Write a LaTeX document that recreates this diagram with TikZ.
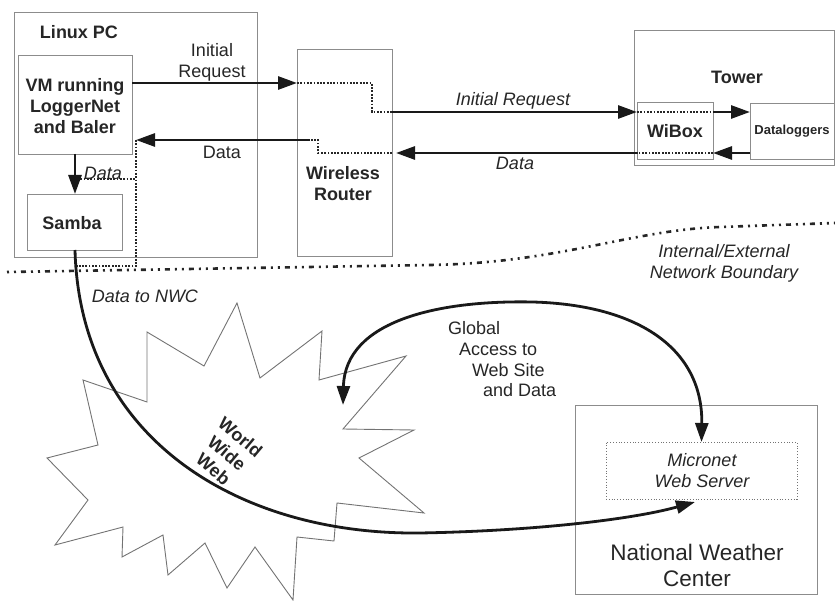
\documentclass[tikz,border=0pt]{standalone}
\usepackage{fontspec}
\setmainfont{Liberation Sans}
\usetikzlibrary{arrows.meta,calc}
\begin{document}
\begin{tikzpicture}[x=1pt,y=-1pt,
  every node/.style={font=\fontsize{18}{21}\selectfont, text=black!85, inner sep=0pt, outer sep=0pt},
  box/.style={draw=black!45, line width=0.9pt, rectangle},
  lbl/.style={font=\fontsize{18}{21}\selectfont\bfseries, align=center},
  ilbl/.style={font=\fontsize{18}{21}\selectfont\itshape, align=center},
  nlbl/.style={font=\fontsize{18}{21}\selectfont, align=center},
  arr/.style={line width=2.8pt, draw=black!90, -{Triangle[length=19pt,width=13pt]}},
  darr/.style={line width=2.8pt, draw=black!90, {Triangle[length=19pt,width=13pt]}-{Triangle[length=19pt,width=13pt]}},
  dots/.style={line width=2.6pt, draw=black!85, dash pattern=on 1.8pt off 1.5pt},
  boundary/.style={line width=2.6pt, draw=black!85, dash pattern=on 2pt off 5pt on 2pt off 5pt on 5pt off 5pt},
  star/.style={draw=black!55, line width=0.9pt}
]
\useasboundingbox (0,0) rectangle (835,601);

% boxes
\node[box, minimum width=243pt, minimum height=245pt] (linux) at (135.5,134.5) {};
\node[box, minimum width=114pt, minimum height=99pt] (vm) at (75,104.5) {};
\node[box, minimum width=95pt, minimum height=56pt] (samba) at (74.5,222) {};
\node[box, minimum width=95pt, minimum height=207pt] (router) at (344.5,152.5) {};
\node[box, minimum width=200pt, minimum height=135pt] (tower) at (734,97.5) {};
\node[box, minimum width=76pt, minimum height=57pt] (wibox) at (675,130.5) {};
\node[box, minimum width=85pt, minimum height=56pt] (dl) at (792.5,131) {};
\node[box, minimum width=242pt, minimum height=189pt] (nwc) at (696,499.5) {};
\node[draw=black!55, line width=0.8pt, dotted, minimum width=191pt, minimum height=57pt] (micronet) at (701.5,470.5) {};

% labels
\node[lbl] (tLinux) at (79,32) {Linux PC};
\node[lbl] (tVM) at (75,106) {VM running\\LoggerNet\\and Baler};
\node[lbl] (tSamba) at (72,223) {Samba};
\node[lbl] (tRouter) at (343,184) {Wireless\\Router};
\node[lbl] (tTower) at (737,77) {Tower};
\node[lbl] (tWiBox) at (675,131) {WiBox};
\node[lbl, font=\fontsize{13}{15}\selectfont\bfseries] (tDL) at (792,131) {Dataloggers};
\node[nlbl] (tIR1) at (212,62) {Initial\\Request};
\node[nlbl] (tD1) at (222,152) {Data};
\node[ilbl] (tD3) at (103,173) {Data};
\node[ilbl] (tIR2) at (513,101) {Initial Request};
\node[ilbl] (tD2) at (515,163) {Data};
\node[ilbl] (tBound) at (724,263) {Internal/External\\Network Boundary};
\node[ilbl] (tNWCdata) at (145,296) {Data to NWC};
\node[nlbl, anchor=west] (tG1) at (448,328) {Global};
\node[nlbl, anchor=west] (tG2) at (459,349) {Access to};
\node[nlbl, anchor=west] (tG3) at (472,370) {Web Site};
\node[nlbl, anchor=west] (tG4) at (483,390) {and Data};
\node[ilbl] (tMicro) at (702,471) {Micronet\\Web Server};
\node[nlbl, font=\fontsize{22.5}{26}\selectfont] (tNWC) at (697,565) {National Weather\\Center};

% row levels
\coordinate (yIR) at (0,83);
\coordinate (yIR2) at (0,112);
\coordinate (yD) at (0,140);
\coordinate (yD2) at (0,153);
\coordinate (yDS) at (0,179);
\coordinate (yB) at (0,266);
\coordinate (rbend1) at (372,112);
\coordinate (rbend2) at (318,140);
\coordinate (rd) at (310,140);
\coordinate (dx) at (136,0);

% Initial request path
\draw[arr] (vm.east |- yIR) -- (router.west |- yIR);
\draw[dots] (router.west |- yIR) -| (rbend1) -- (router.east |- yIR2);
\draw[arr] (router.east |- yIR2) -- (wibox.west |- yIR2);
\draw[dots] (wibox.west |- yIR2) -- (wibox.east |- yIR2);
\draw[arr] (wibox.east |- yIR2) -- (dl.west |- yIR2);

% Data path
\draw[arr] (dl.west |- yD2) -- (wibox.east |- yD2);
\draw[dots] (wibox.east |- yD2) -- (wibox.west |- yD2);
\draw[arr] (wibox.west |- yD2) -- ($(router.east |- yD2)+(4,0)$);
\draw[dots] (router.east |- yD2) -| (rbend2) -- (rd);
\draw[arr] (rd) -- ($(vm.east |- yD)+(4,0)$);
\draw[dots] (dx |- yD) -- (dx |- yB) -- ($(samba.south |- yB)+(2,0)$);
\draw[dots] ($(vm.south |- yDS)+(2,0)$) -- (dx |- yDS);
\draw[arr] (vm.south) -- (vm.south |- samba.north);

% boundary
\coordinate (b0) at (7,272);
\coordinate (b1) at (430,265);
\coordinate (b2) at (720,227);
\coordinate (b3) at (835,223);
\draw[boundary] (b0) -- (b1) .. controls (560,263) and (630,230) .. (b2) -- (b3);

% world wide web star
\draw[star] (147,332) -- (204,366) -- (237,303) -- (260,378) -- (322,331) -- (319,380)
  -- (406,356) -- (343,429) -- (414,430) -- (359,458) -- (424,513) -- (337,503)
  -- (334,541) -- (297,537) -- (293,600) -- (255,547) -- (227,588) -- (205,543)
  -- (168,575) -- (163,535) -- (122,557) -- (123,527) -- (55,545) -- (88,500)
  -- (47,458) -- (98,445) -- (83,380) -- (147,402) -- cycle;
\node[lbl, rotate=-40] (tWWW) at (227,453) {World\\Wide\\Web};

% data to NWC
\coordinate (c1) at (420,533);
\coordinate (mtip) at (695,502);
\draw[arr] (samba.south -| vm.south) .. controls (80,440) and (240,535) .. (c1)
  .. controls (530,531) and (630,520) .. (mtip);

% global access
\coordinate (gtip) at (343,405);
\coordinate (g1) at (533,302);
\draw[darr] (gtip) .. controls (345,320) and (440,300) .. (g1)
  .. controls (640,305) and (703,350) .. (micronet.north);
\end{tikzpicture}
\end{document}
